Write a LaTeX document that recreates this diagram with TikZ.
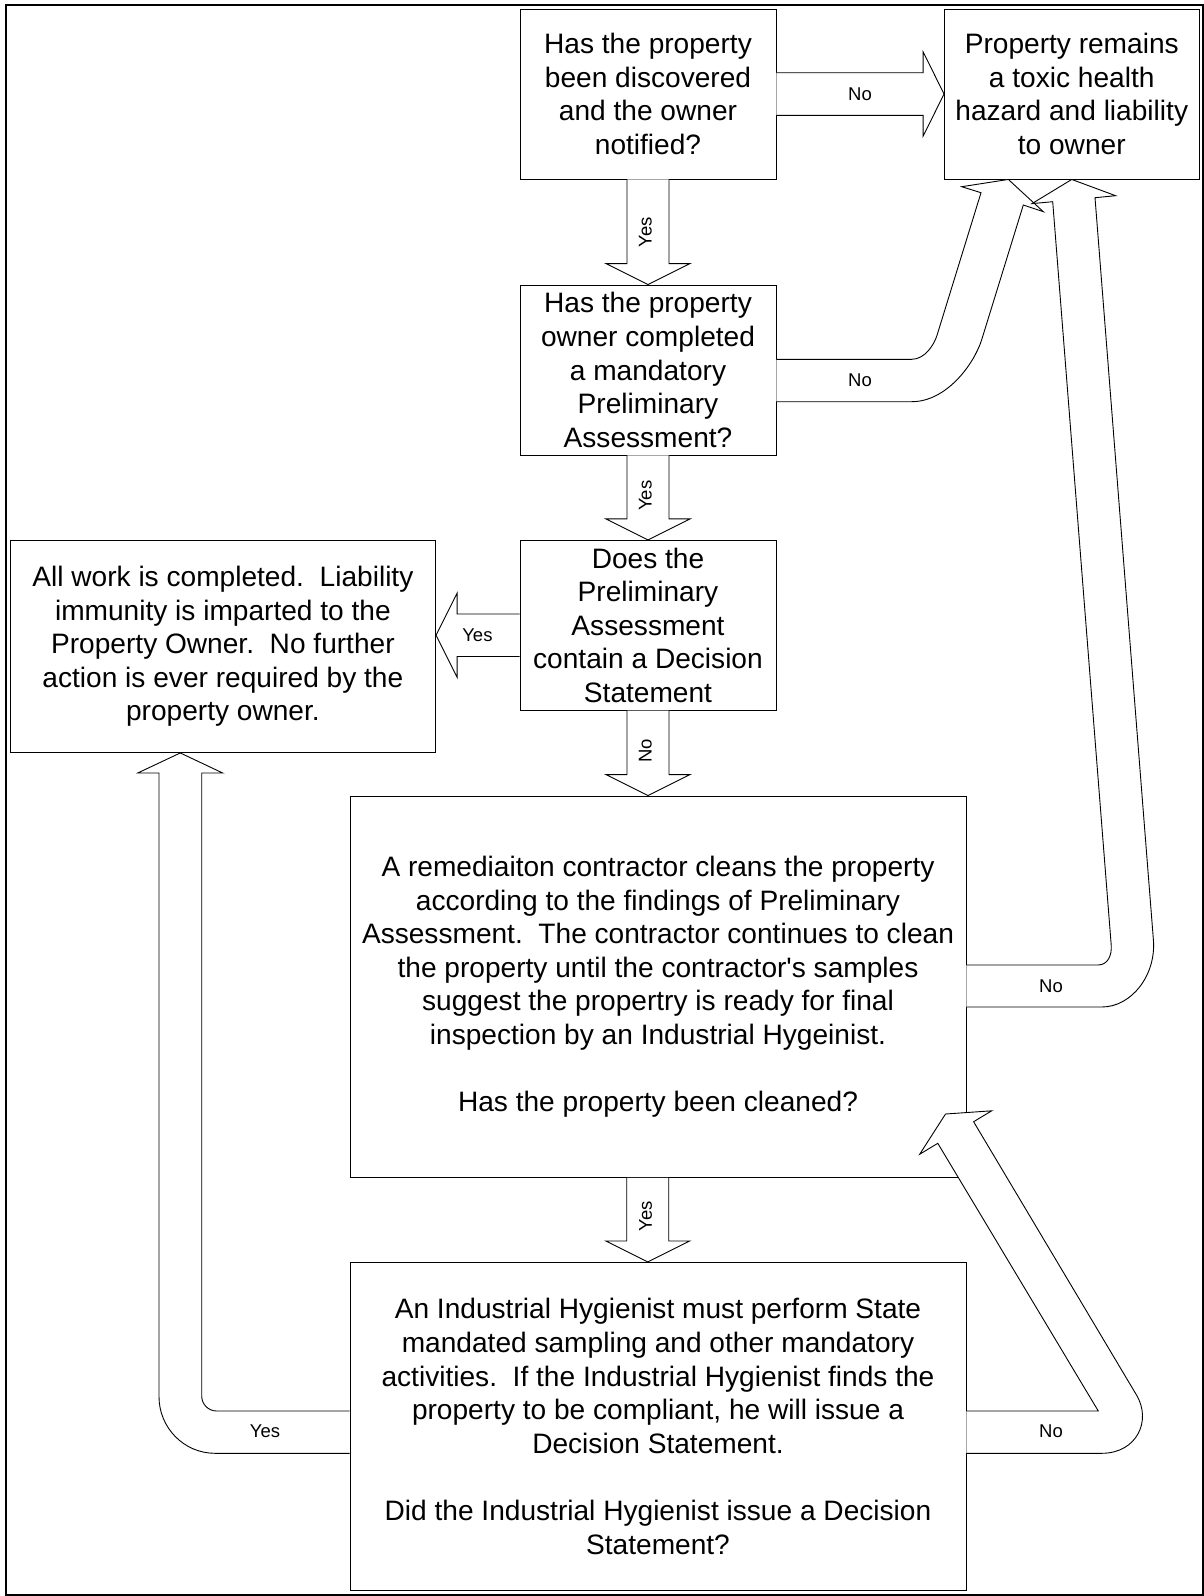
\documentclass[tikz,border=0pt]{standalone}
\usepackage{fontspec}
\setmainfont{Liberation Sans}
\usetikzlibrary{calc}
\begin{document}
\begin{tikzpicture}[x=1pt,y=-1pt,
  box/.style={draw=black, line width=0.9pt, fill=white, align=center, inner sep=0pt,
    font=\fontsize{28.1}{33.6}\selectfont},
  blk/.style={draw=black, line width=0.9pt, fill=white, line join=miter},
  lbl/.style={font=\fontsize{18.5}{22}\selectfont, inner sep=0pt}]
\useasboundingbox (0,0) rectangle (1204,1596);
\draw[line width=2pt] (5.5,5) rectangle (1202.5,1594.5);

% boxes
\node[box, minimum width=256pt, minimum height=170pt] (q1) at (648,94)
  {Has the property\\been discovered\\and the owner\\notified?};
\node[box, minimum width=254.5pt, minimum height=170pt] (res) at (1071.75,94)
  {Property remains\\a toxic health\\hazard and liability\\to owner};
\node[box, minimum width=256pt, minimum height=170pt] (q2) at (648,370)
  {Has the property\\owner completed\\a mandatory\\Preliminary\\Assessment?};
\node[box, minimum width=256pt, minimum height=169.7pt] (q3) at (648,625.2)
  {Does the\\Preliminary\\Assessment\\contain a Decision\\Statement};
\node[box, minimum width=425.4pt, minimum height=212pt] (done) at (222.9,646.5)
  {All work is completed.\ \ Liability\\immunity is imparted to the\\Property Owner.\ \ No further\\action is ever required by the\\property owner.};
\node[box, minimum width=616pt, minimum height=381.5pt] (clean) at (658,986.75)
  {A remediaiton contractor cleans the property\\according to the findings of Preliminary\\Assessment.\ \ The contractor continues to clean\\the property until the contractor\textquotesingle s samples\\suggest the propertry is ready for final\\inspection by an Industrial Hygeinist.\\[33.6pt]Has the property been cleaned?};
\node[box, minimum width=616pt, minimum height=328pt] (ih) at (658,1426.4)
  {An Industrial Hygienist must perform State\\mandated sampling and other mandatory\\activities.\ \ If the Industrial Hygienist finds the\\property to be compliant, he will issue a\\Decision Statement.\\[33.6pt]Did the Industrial Hygienist issue a Decision\\Statement?};

% straight vertical block arrows
\path[blk] ($(q1.south)+(-21,0)$) -- ($(q1.south |- q2.north)+(-21,-21)$) -- ($(q1.south |- q2.north)+(-42,-21)$)
  -- (q1.south |- q2.north) -- ($(q1.south |- q2.north)+(42,-21)$) -- ($(q1.south |- q2.north)+(21,-21)$) -- ($(q1.south)+(21,0)$);
\path[blk] ($(q2.south)+(-21,0)$) -- ($(q2.south |- q3.north)+(-21,-21)$) -- ($(q2.south |- q3.north)+(-42,-21)$)
  -- (q2.south |- q3.north) -- ($(q2.south |- q3.north)+(42,-21)$) -- ($(q2.south |- q3.north)+(21,-21)$) -- ($(q2.south)+(21,0)$);
\path[blk] ($(q3.south)+(-21,0)$) -- ($(q3.south |- clean.north)+(-21,-21)$) -- ($(q3.south |- clean.north)+(-42,-21)$)
  -- (q3.south |- clean.north) -- ($(q3.south |- clean.north)+(42,-21)$) -- ($(q3.south |- clean.north)+(21,-21)$) -- ($(q3.south)+(21,0)$);
\coordinate (ctop) at ($(clean.south)+(-10.3,0)$);
\path[blk] ($(ctop)+(-21,0)$) -- ($(ctop |- ih.north)+(-21,-21)$) -- ($(ctop |- ih.north)+(-42,-21)$)
  -- (ctop |- ih.north) -- ($(ctop |- ih.north)+(42,-21)$) -- ($(ctop |- ih.north)+(21,-21)$) -- ($(ctop)+(21,0)$);

% horizontal block arrows
\path[blk] ($(q1.east)+(0,-21.3)$) -- ($(res.west)+(-21,-21.3)$) -- ($(res.west)+(-21,-42.3)$) -- (res.west)
  -- ($(res.west)+(-21,42.3)$) -- ($(res.west)+(-21,21.3)$) -- ($(q1.east)+(0,21.3)$);
\coordinate (dtip) at ($(done.east)+(0,-11.2)$);
\path[blk] ($(q3.west)+(0,-11.2)$) -- ($(dtip)+(21,-21.3)$) -- ($(dtip)+(21,-42)$) -- (dtip)
  -- ($(dtip)+(21,42)$) -- ($(dtip)+(21,21.2)$) -- ($(q3.west)+(0,31.3)$);

% curved: q2 -> res
\path[blk] ($(q2.east)+(0,-10.7)$) -- (911.7,359.3) .. controls (925,359.3) and (934.2,344.6) .. (937.1,335)
  -- (981,192.7) -- (961.7,186.7) -- ($(res.south)+(-63.4,0)$) -- (1043.3,211.7) -- (1023.3,205)
  -- (981.6,340) .. controls (974,363.9) and (946.7,401.7) .. (911.7,401.7) -- ($(q2.east)+(0,31.7)$);

% curved: clean -> res
\path[blk] ($(clean.east)+(0,-21.75)$) -- (1098,965) .. controls (1108,965) and (1112,955) .. (1111.2,945)
  -- (1052.7,201.7) -- (1032,203.6) -- (res.south) -- (1115.6,195.7) -- (1095,197.7)
  -- (1153.4,940) .. controls (1156.2,975) and (1131.7,1007) .. (1101.7,1007) -- ($(clean.east)+(0,20.25)$);

% curved: ih -> clean
\path[blk] ($(ih.east)+(0,-15.4)$) -- (1098.3,1411) -- (937.8,1143.3) -- (919.7,1154.2) -- (945.5,1114)
  -- (991.7,1110.8) -- (973.6,1121.7) -- (1136.5,1395) .. controls (1151.9,1420.8) and (1136.7,1453.3) .. (1101.7,1453.3)
  -- ($(ih.east)+(0,26.9)$);

% curved: ih -> done
\path[blk] ($(ih.west)+(0,-15.4)$) -- (216.7,1411) .. controls (208.4,1411) and (201.7,1404.3) .. (201.7,1396)
  -- (201.7,773) -- (222.7,773) -- ($(done.south)+(-42.6,0)$) -- (137.7,773) -- (159,773)
  -- (159,1396.7) .. controls (159,1427.7) and (184,1453.3) .. (215,1453.3) -- ($(ih.west)+(0,26.9)$);

% labels
\node[lbl] (l1) at (860,94) {No};
\node[lbl] (l2) at (860,380.5) {No};
\node[lbl] (l3) at (1051,986) {No};
\node[lbl] (l4) at (1051,1431.7) {No};
\node[lbl] (l5) at (265,1431.7) {Yes};
\node[lbl] (l6) at (477.4,635.3) {Yes};
\node[lbl, rotate=90] (l7) at (645.3,232) {Yes};
\node[lbl, rotate=90] (l8) at (645.3,495.7) {Yes};
\node[lbl, rotate=90] (l9) at (645.3,751) {No};
\node[lbl, rotate=90] (l10) at (645.5,1216) {Yes};
\end{tikzpicture}
\end{document}
